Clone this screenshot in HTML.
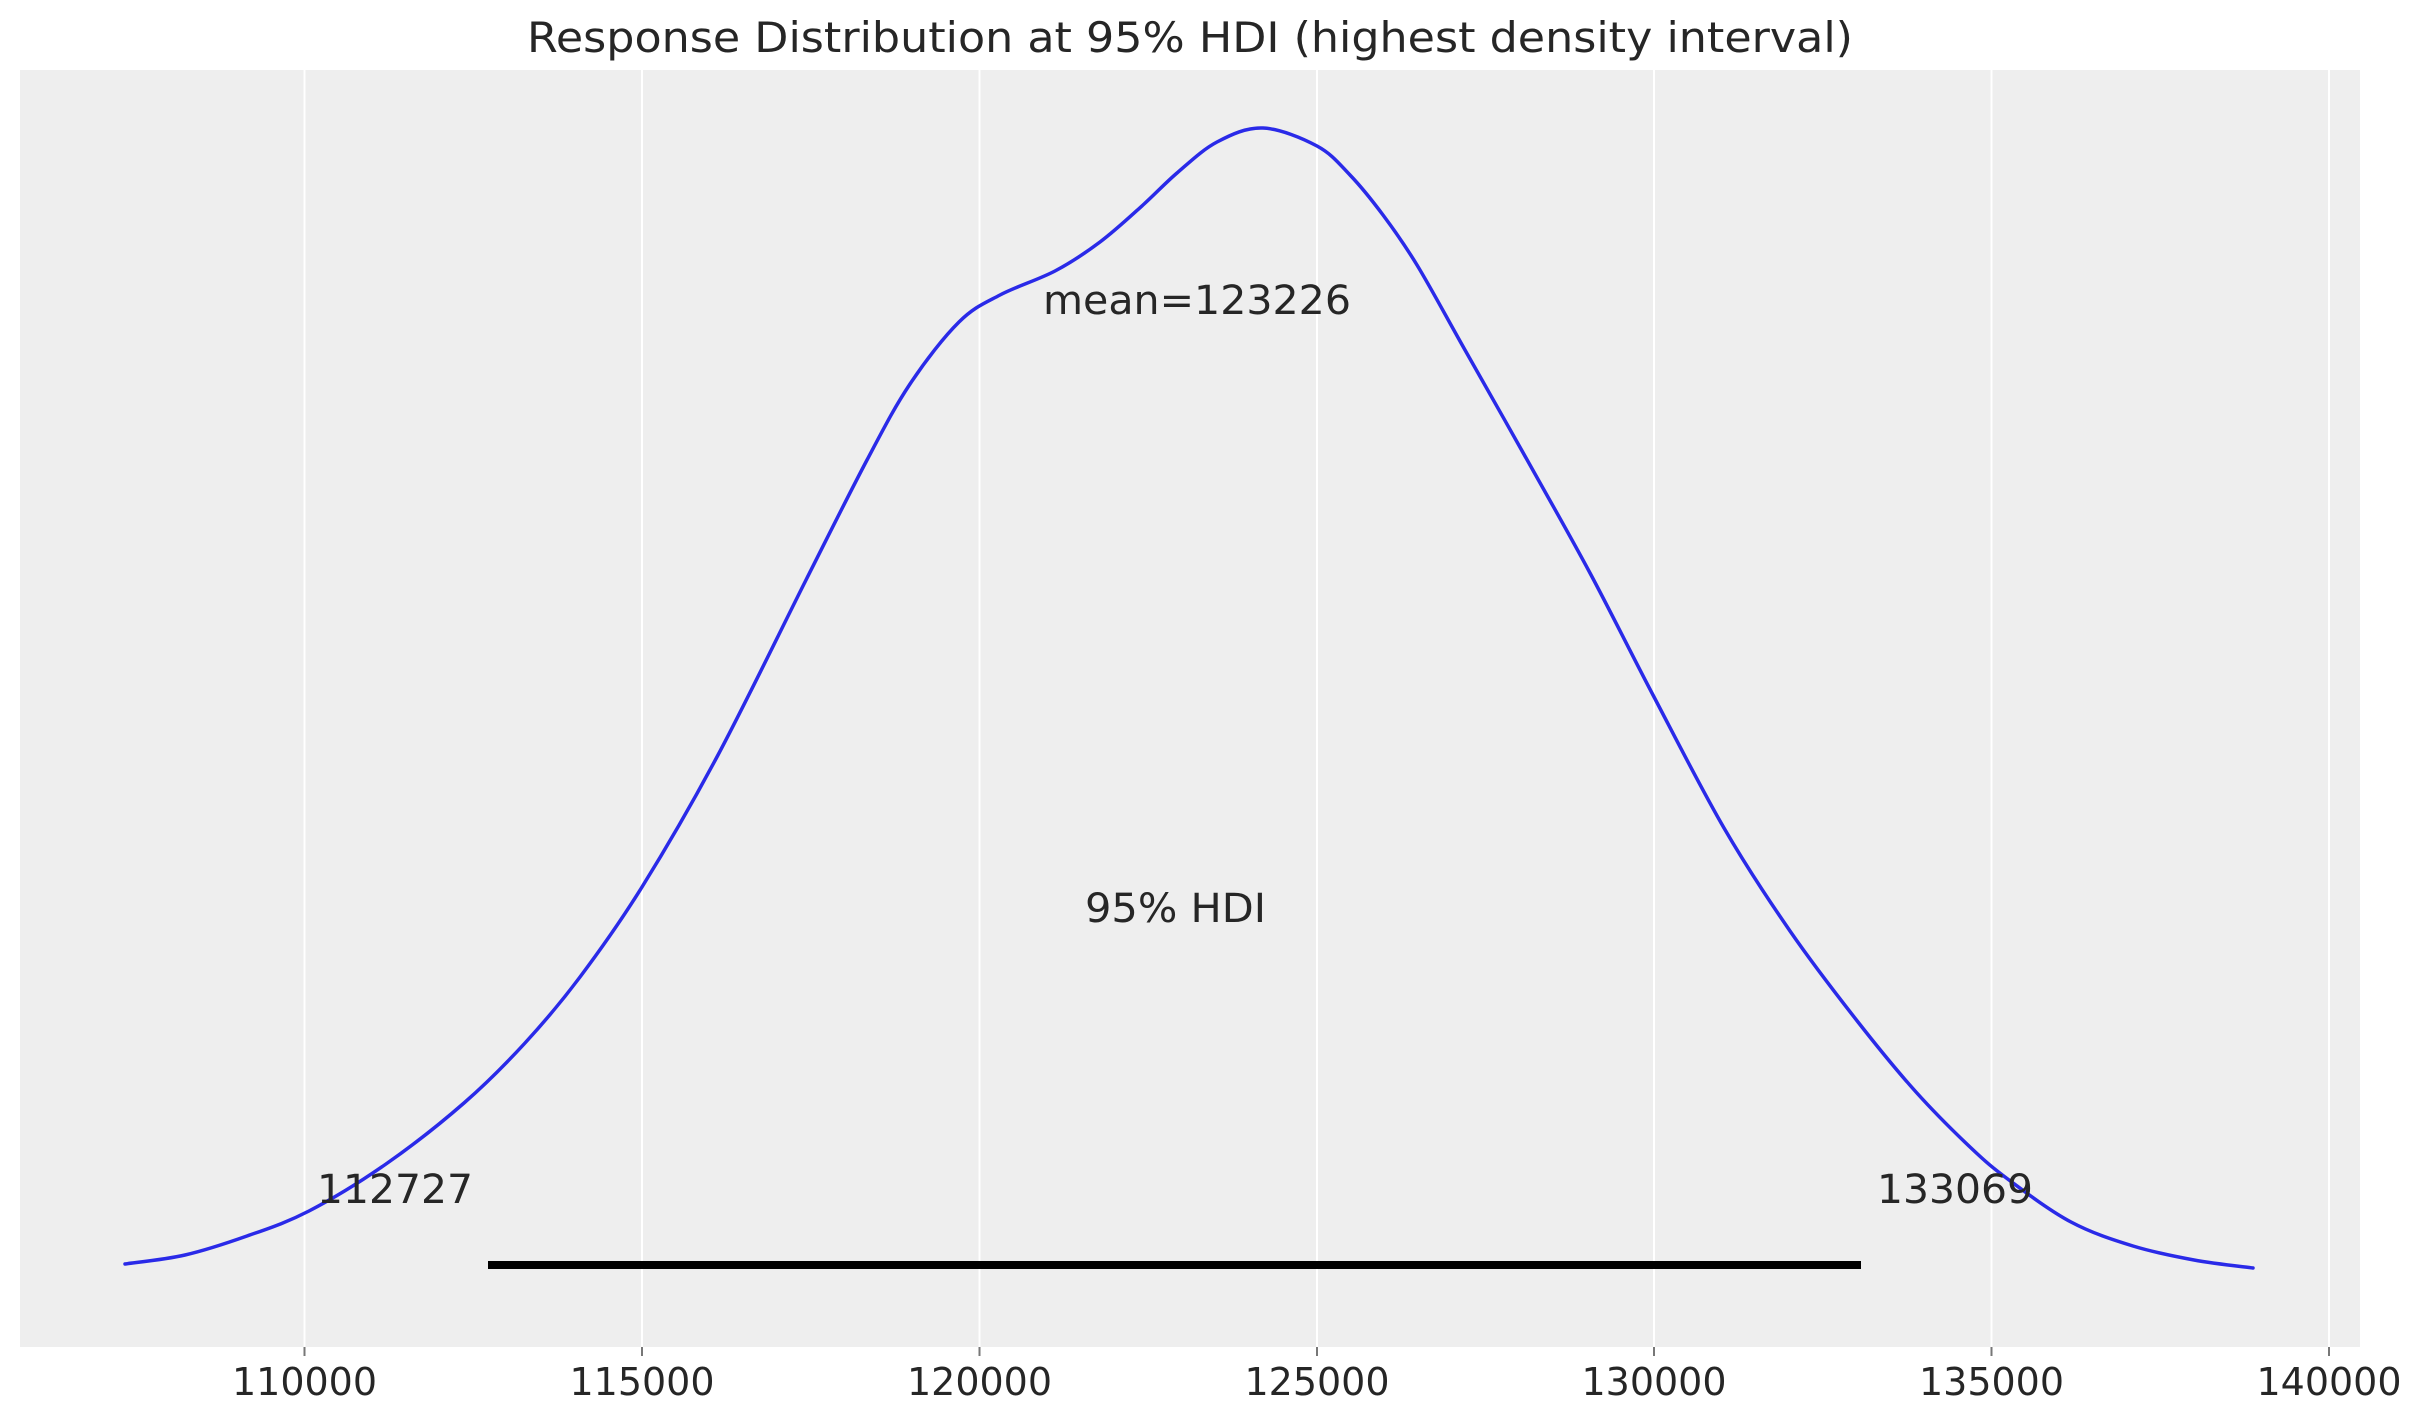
<!DOCTYPE html>
<html><head><meta charset="utf-8"><style>html,body{margin:0;padding:0;background:#fff}svg{display:block}</style></head><body>
<svg width="2423" height="1423" viewBox="0 0 2423 1423" xmlns="http://www.w3.org/2000/svg" font-family="'DejaVu Sans','Liberation Sans',sans-serif" fill="#262626">
<rect x="0" y="0" width="2423" height="1423" fill="#fff"/>
<rect x="20" y="70" width="2340" height="1277" fill="#eeeeee"/>
<g stroke="#fff" stroke-width="2">
<line x1="304.5" y1="70" x2="304.5" y2="1347"/>
<line x1="642" y1="70" x2="642" y2="1347"/>
<line x1="979.5" y1="70" x2="979.5" y2="1347"/>
<line x1="1317" y1="70" x2="1317" y2="1347"/>
<line x1="1654" y1="70" x2="1654" y2="1347"/>
<line x1="1991.5" y1="70" x2="1991.5" y2="1347"/>
<line x1="2329" y1="70" x2="2329" y2="1347"/>
</g>
<g stroke="#777" stroke-width="2">
<line x1="304.5" y1="1347" x2="304.5" y2="1356"/>
<line x1="642" y1="1347" x2="642" y2="1356"/>
<line x1="979.5" y1="1347" x2="979.5" y2="1356"/>
<line x1="1317" y1="1347" x2="1317" y2="1356"/>
<line x1="1654" y1="1347" x2="1654" y2="1356"/>
<line x1="1991.5" y1="1347" x2="1991.5" y2="1356"/>
<line x1="2329" y1="1347" x2="2329" y2="1356"/>
</g>
<g font-size="38" text-anchor="middle">
<text x="304.5" y="1395">110000</text>
<text x="642" y="1395">115000</text>
<text x="979.5" y="1395">120000</text>
<text x="1317" y="1395">125000</text>
<text x="1654" y="1395">130000</text>
<text x="1991.5" y="1395">135000</text>
<text x="2329" y="1395">140000</text>
</g>
<text x="1190" y="52" font-size="42" text-anchor="middle" textLength="1326" lengthAdjust="spacingAndGlyphs">Response Distribution at 95% HDI (highest density interval)</text>
<line x1="488" y1="1265" x2="1861" y2="1265" stroke="#000" stroke-width="8"/>
<polyline id="pl" fill="none" stroke="#2a2ae8" stroke-width="3.5" stroke-linejoin="round" stroke-linecap="round" points="125,1264 185,1255 247,1236 309,1211 386,1164 464,1103 525,1043 580,977 642,887 718,755 806,580 867,460 910,384 959,322 1000,295 1055,271 1100,242 1143,205 1177,173 1217,142 1263,128 1317,146 1350,175 1383,215 1417,265 1465,350 1530,465 1590,573 1653,695 1724,828 1790,931 1858,1022 1916,1092 1970,1147 2009,1180 2071,1222 2133,1246 2194,1260 2253,1268"/>
<path id="sm" fill="none" stroke="#2a2ae8" stroke-width="3.5" stroke-linejoin="round" stroke-linecap="round" d=""/>
<g font-size="40">
<text x="1043" y="314" textLength="308" lengthAdjust="spacingAndGlyphs">mean=123226</text>
<text x="1085" y="922" textLength="181" lengthAdjust="spacingAndGlyphs">95% HDI</text>
<text x="317" y="1203" textLength="156" lengthAdjust="spacingAndGlyphs">112727</text>
<text x="1877" y="1203" textLength="156" lengthAdjust="spacingAndGlyphs">133069</text>
</g>
</svg>
<script>
(function(){
var pl=document.getElementById('pl');
var p=pl.getAttribute('points').trim().split(/\s+/).map(function(s){return s.split(',').map(Number);});
var d='M'+p[0][0]+','+p[0][1];
for(var i=0;i<p.length-1;i++){
var p0=p[i-1]||p[i],p1=p[i],p2=p[i+1],p3=p[i+2]||p[i+1];
var c1x=p1[0]+(p2[0]-p0[0])/6,c1y=p1[1]+(p2[1]-p0[1])/6;
var c2x=p2[0]-(p3[0]-p1[0])/6,c2y=p2[1]-(p3[1]-p1[1])/6;
d+=' C'+c1x.toFixed(1)+','+c1y.toFixed(1)+' '+c2x.toFixed(1)+','+c2y.toFixed(1)+' '+p2[0]+','+p2[1];
}
document.getElementById('sm').setAttribute('d',d);
pl.parentNode.removeChild(pl);
})();
</script>
</body></html>
